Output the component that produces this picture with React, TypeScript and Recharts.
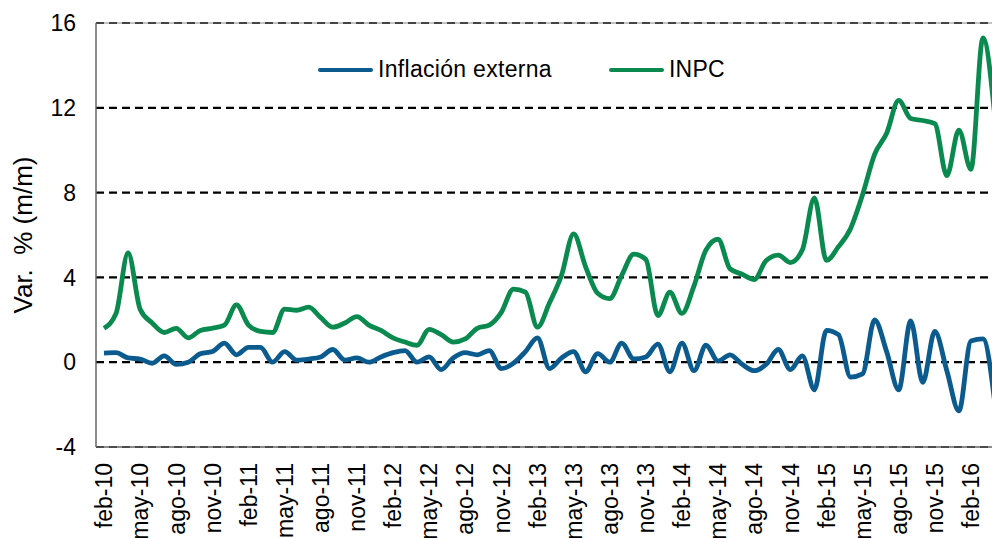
import { LineChart, Line, XAxis, YAxis, CartesianGrid, ReferenceLine } from "recharts"

// monthly, feb-10 .. abr-16
const months = [
  "feb-10", "mar-10", "abr-10", "may-10", "jun-10", "jul-10", "ago-10", "sep-10", "oct-10", "nov-10", "dic-10",
  "ene-11", "feb-11", "mar-11", "abr-11", "may-11", "jun-11", "jul-11", "ago-11", "sep-11", "oct-11", "nov-11", "dic-11",
  "ene-12", "feb-12", "mar-12", "abr-12", "may-12", "jun-12", "jul-12", "ago-12", "sep-12", "oct-12", "nov-12", "dic-12",
  "ene-13", "feb-13", "mar-13", "abr-13", "may-13", "jun-13", "jul-13", "ago-13", "sep-13", "oct-13", "nov-13", "dic-13",
  "ene-14", "feb-14", "mar-14", "abr-14", "may-14", "jun-14", "jul-14", "ago-14", "sep-14", "oct-14", "nov-14", "dic-14",
  "ene-15", "feb-15", "mar-15", "abr-15", "may-15", "jun-15", "jul-15", "ago-15", "sep-15", "oct-15", "nov-15", "dic-15",
  "ene-16", "feb-16", "mar-16", "abr-16",
]

const inflacionExterna = [
  0.43, 0.45, 0.2, 0.15, -0.05, 0.3, -0.1, 0.0, 0.4, 0.5, 0.9,
  0.35, 0.7, 0.7, 0.0, 0.5, 0.1, 0.15, 0.25, 0.6, 0.1, 0.2, 0.0,
  0.25, 0.45, 0.55, 0.0, 0.25, -0.35, 0.2, 0.45, 0.35, 0.55, -0.3, -0.05,
  0.5, 1.15, -0.3, 0.2, 0.5, -0.45, 0.4, 0.0, 0.9, 0.15, 0.25, 0.85,
  -0.45, 0.9, -0.4, 0.8, 0.05, 0.35, -0.1, -0.4, -0.1, 0.6, -0.35, 0.3,
  -1.3, 1.5, 1.3, -0.7, -0.55, 2.0, 0.5, -1.3, 1.95, -0.95, 1.45, -0.4,
  -2.3, 1.0, 1.1, -2.0,
]

const inpc = [
  1.6, 2.3, 5.15, 2.5, 1.85, 1.4, 1.6, 1.15, 1.5, 1.6, 1.75,
  2.7, 1.75, 1.45, 1.4, 2.5, 2.45, 2.6, 2.1, 1.65, 1.85, 2.15, 1.75,
  1.5, 1.15, 0.95, 0.8, 1.55, 1.3, 0.95, 1.1, 1.6, 1.75, 2.35, 3.45,
  3.3, 1.65, 2.8, 4.1, 6.05, 4.5, 3.25, 3.0, 4.1, 5.1, 4.85, 2.2,
  3.3, 2.3, 3.6, 5.3, 5.8, 4.4, 4.15, 3.9, 4.8, 5.05, 4.7, 5.3,
  7.75, 4.8, 5.45, 6.3, 7.9, 9.8, 10.8, 12.35, 11.5, 11.4, 11.25, 8.8,
  10.95, 9.1, 15.3, 11.5,
]

const yTicks = [-4, 0, 4, 8, 12, 16]

const BLUE = "#0B5B8E"
const GREEN = "#0A8A4E"
const FONT = "'Liberation Sans', Arial, sans-serif"

const data = months.map((m, i) => ({ mes: m, externa: inflacionExterna[i], inpc: inpc[i] }))

function MonthTick({ x, y, payload }: any) {
  return (
    <text
      x={x}
      y={y}
      transform={`rotate(-90, ${x}, ${y})`}
      textAnchor="end"
      dy="0.36em"
      fontSize={23}
      fontFamily={FONT}
      fill="#000"
    >
      {payload.value}
    </text>
  )
}

function YTitle() {
  return (
    <text
      x={23}
      y={235}
      transform="rotate(-90, 23, 235)"
      textAnchor="middle"
      dominantBaseline="central"
      fontSize={26}
      fontFamily={FONT}
      fill="#000"
      xmlSpace="preserve"
      style={{ whiteSpace: "pre" }}
    >
      {"Var.  % (m/m)"}
    </text>
  )
}

function LegendItem({ color, text }: { color: string; text: string }) {
  return (
    <div style={{ display: "flex", alignItems: "center" }}>
      <span style={{ display: "inline-block", width: 55, height: 4, background: color, borderRadius: 2, marginRight: 5 }} />
      <span style={{ fontSize: 23, fontFamily: FONT, color: "#000", letterSpacing: 0.3 }}>{text}</span>
    </div>
  )
}

export default function App() {
  return (
    <div style={{ position: "fixed", left: 0, top: 0, width: 992, height: 538, overflow: "hidden", background: "#fff" }}>
      <LineChart width={1010} height={560} data={data} margin={{ top: 23, right: 7, left: 0, bottom: 0 }}>
        <CartesianGrid vertical={false} stroke="#000" strokeWidth={2.2} strokeDasharray="8 5" />
        <ReferenceLine y={16} stroke="#888" strokeWidth={1} />
        <XAxis
          dataKey="mes"
          interval={2}
          padding={{ left: 8, right: 8 }}
          tickLine={false}
          tickSize={0}
          tickMargin={16}
          axisLine={{ stroke: "#666", strokeWidth: 1.5 }}
          height={113}
          tick={<MonthTick />}
        />
        <YAxis
          domain={[-4, 16]}
          ticks={yTicks}
          width={96}
          tickLine={false}
          tickSize={0}
          tickMargin={20}
          axisLine={{ stroke: "#666", strokeWidth: 1.5 }}
          tick={{ fill: "#000", fontSize: 23, fontFamily: FONT }}
          label={<YTitle />}
        />
        <Line type="monotone" dataKey="externa" name="Inflación externa" stroke={BLUE} strokeWidth={4.8} dot={false} activeDot={false} isAnimationActive={false} />
        <Line type="monotone" dataKey="inpc" name="INPC" stroke={GREEN} strokeWidth={4.8} dot={false} activeDot={false} isAnimationActive={false} />
      </LineChart>
      <div style={{ position: "absolute", top: 56, left: 318, display: "flex", alignItems: "center", gap: 57 }}>
        <LegendItem color={BLUE} text="Inflación externa" />
        <LegendItem color={GREEN} text="INPC" />
      </div>
    </div>
  )
}
